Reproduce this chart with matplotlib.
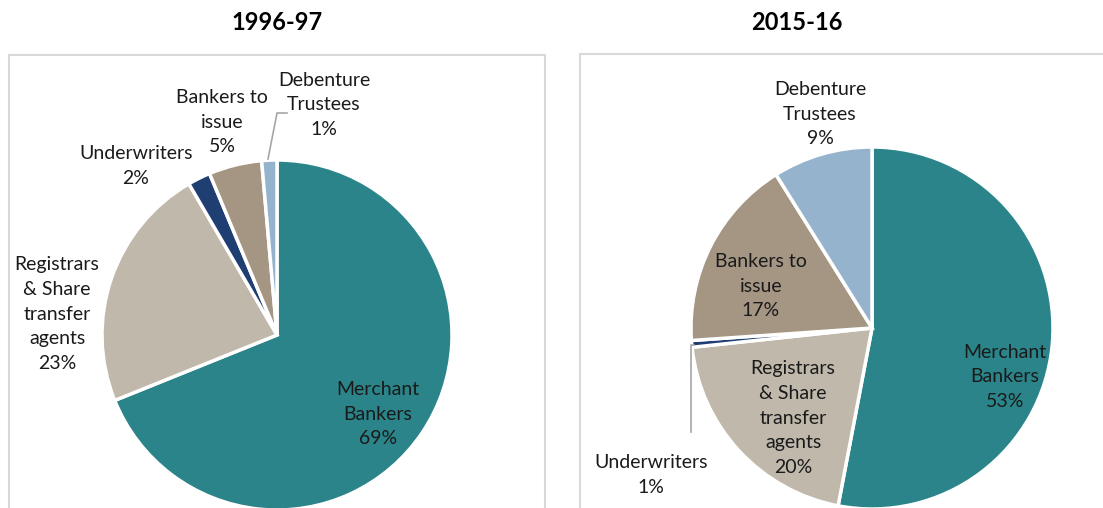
import matplotlib
matplotlib.use("Agg")
import matplotlib.pyplot as plt
from matplotlib.patches import Rectangle

plt.rcParams['font.family'] = ['Lato', 'DejaVu Sans']

categories = ["Merchant\nBankers", "Registrars\n& Share\ntransfer\nagents",
              "Underwriters", "Bankers to\nissue", "Debenture\nTrustees"]
values_1996 = [68.9, 22.7, 2.1, 4.9, 1.4]
values_2015 = [53.0, 20.3, 0.6, 17.2, 8.9]
titles = ["1996-97", "2015-16"]
colors = ["#2A8489", "#BFB8AB", "#1F3F73", "#A59684", "#95B3CD"]

W, H = 1103, 508
fig = plt.figure(figsize=(W / 100, H / 100), dpi=100)

TEXT = "#1a1a1a"
FS = 14
LS = 1.55


def pie_axes(cx, cy, R):
    ax = fig.add_axes([(cx - R) / W, 1 - (cy + R) / H, 2 * R / W, 2 * R / H])
    ax.set_xlim(-1, 1)
    ax.set_ylim(-1, 1)
    ax.axis("off")
    return ax


def to_data(px, py, cx, cy, R):
    return (px - cx) / R, -(py - cy) / R


# frames
fig.add_artist(Rectangle((9 / W, -0.2), (545 - 9) / W, 1.2 - 55 / H,
                         transform=fig.transFigure, fill=False,
                         edgecolor="#d9d9d9", lw=1.5, zorder=-5))
fig.add_artist(Rectangle((580 / W, -0.2), 0.6, 1.2 - 54 / H,
                         transform=fig.transFigure, fill=False,
                         edgecolor="#d9d9d9", lw=1.5, zorder=-5))

# titles
fig.text(277 / W, 1 - 22 / H, titles[0], ha="center", va="center",
         fontsize=17, fontweight="bold", color="black")
fig.text(797 / W, 1 - 22 / H, titles[1], ha="center", va="center",
         fontsize=17, fontweight="bold", color="black")

# ---------- left pie ----------
cx1, cy1, R1 = 277, 335, 175
ax1 = pie_axes(cx1, cy1, R1)
ax1.pie(values_1996, colors=colors, startangle=90, counterclock=False,
        radius=1.0, wedgeprops=dict(edgecolor="white", linewidth=2.5))
ax1.set_xlim(-1, 1)
ax1.set_ylim(-1, 1)
label_pos_1 = [(378, 414), (57, 314), (136, 166), (222, 122), (324, 105)]
for cat, v, (px, py) in zip(categories, values_1996, label_pos_1):
    x, y = to_data(px, py, cx1, cy1, R1)
    ax1.text(x, y, f"{cat}\n{round(v):d}%", ha="center", va="center",
             fontsize=FS, color=TEXT, linespacing=LS, clip_on=False)
# leader for Debenture Trustees
lx, ly = zip(*[to_data(p[0], p[1], cx1, cy1, R1) for p in [(268, 159), (277, 113), (287, 113)]])
ax1.plot(lx, ly, color="#a6a6a6", lw=1.2, clip_on=False)

# ---------- right pie ----------
cx2, cy2, R2 = 872, 328, 181
ax2 = pie_axes(cx2, cy2, R2)
ax2.pie(values_2015, colors=colors, startangle=90, counterclock=False,
        radius=1.0, wedgeprops=dict(edgecolor="white", linewidth=2.5))
ax2.set_xlim(-1, 1)
ax2.set_ylim(-1, 1)
label_pos_2 = [(1005, 377), (793, 418), (651, 475), (761, 286), (820, 114)]
for cat, v, (px, py) in zip(categories, values_2015, label_pos_2):
    x, y = to_data(px, py, cx2, cy2, R2)
    ax2.text(x, y, f"{cat}\n{round(v):d}%", ha="center", va="center",
             fontsize=FS, color=TEXT, linespacing=LS, clip_on=False)
lx, ly = zip(*[to_data(p[0], p[1], cx2, cy2, R2) for p in [(694, 345), (691, 345), (691, 432)]])
ax2.plot(lx, ly, color="#a6a6a6", lw=1.2, clip_on=False)

fig.savefig("out.png", dpi=100)
